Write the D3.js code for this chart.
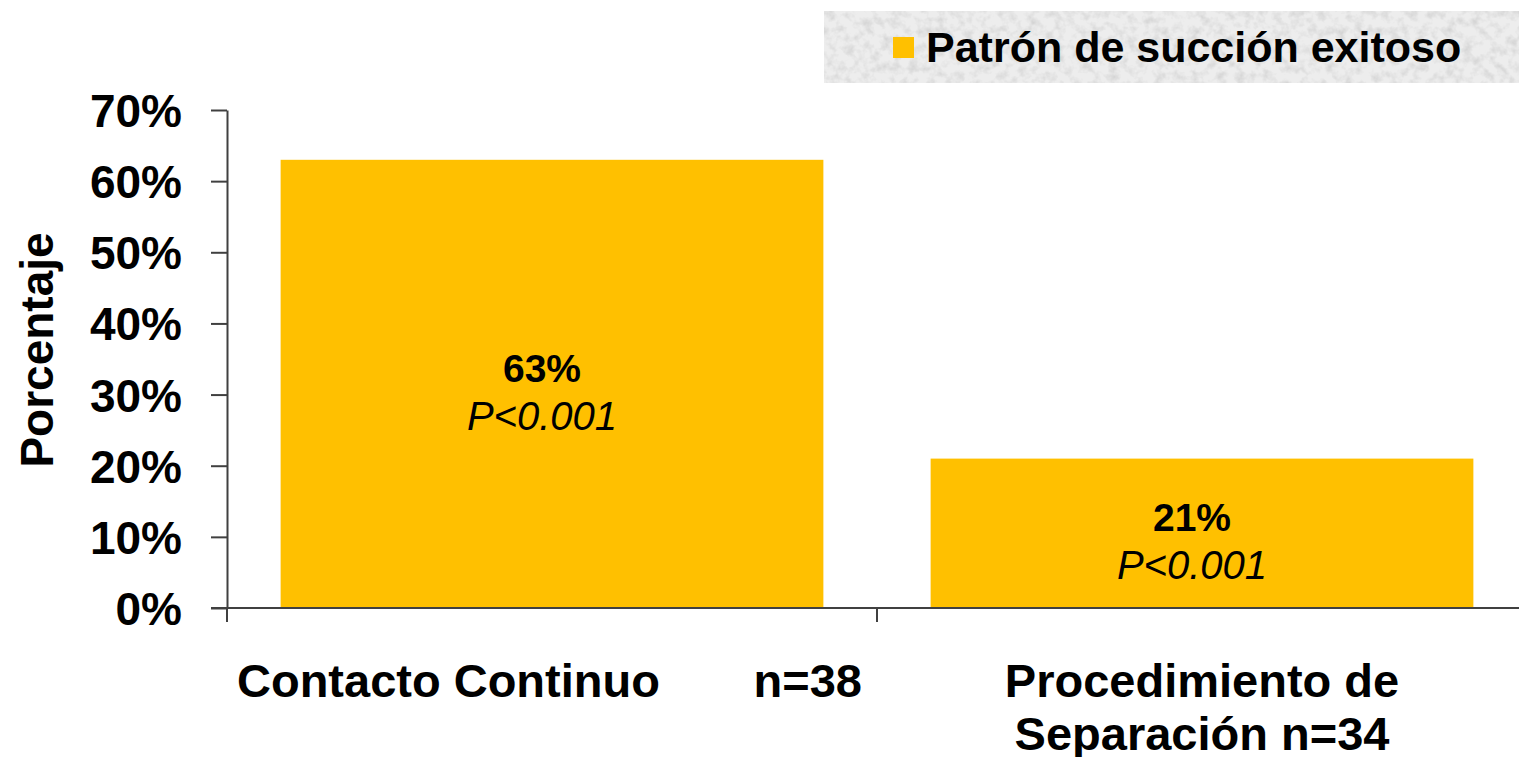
<!DOCTYPE html>
<html>
<head>
<meta charset="utf-8">
<script src="https://cdn.jsdelivr.net/npm/d3@7"></script>
<style>
  html, body { margin: 0; padding: 0; background: #ffffff; }
  svg { display: block; font-family: Arial, "Liberation Sans", sans-serif; }
</style>
</head>
<body>
<svg id="chart" width="1519" height="757"></svg>
<script>
// ---- data ----
const categories = ["Contacto Continuo", "Procedimiento de Separación"];
const sampleSizes = ["n=38", "n=34"];
const values = [63, 21];
const valueLabels = ["63%", "21%"];
const pLabels = ["P<0.001", "P<0.001"];
const yTicks = [0, 10, 20, 30, 40, 50, 60, 70];
const seriesName = "Patrón de succión exitoso";
const yTitle = "Porcentaje";

// ---- layout ----
const W = 1519, H = 757;
const plot = { left: 227, right: 1527, top: 110, bottom: 608 };
const barColor = "#FFC000";
const axisColor = "#404040";

const svg = d3.select("#chart");

const x = d3.scaleBand()
  .domain(categories)
  .range([plot.left, plot.right])
  .paddingInner(0.165)
  .paddingOuter(0.0825);

const y = d3.scaleLinear()
  .domain([0, 70])
  .range([plot.bottom, plot.top]);

// ---- legend (textured gray box) ----
const defs = svg.append("defs");
const f = defs.append("filter").attr("id", "granite")
  .attr("x", 0).attr("y", 0).attr("width", 1).attr("height", 1);
f.append("feTurbulence").attr("type", "fractalNoise")
  .attr("baseFrequency", "0.11").attr("numOctaves", 3).attr("seed", 7).attr("result", "noise");
f.append("feColorMatrix").attr("in", "noise").attr("type", "matrix")
  .attr("values", "0 0 0 0 0.55  0 0 0 0 0.55  0 0 0 0 0.55  1.3 0 0 0 -0.55")
  .attr("result", "grain");
f.append("feComposite").attr("in", "grain").attr("in2", "SourceGraphic").attr("operator", "in");

const legend = svg.append("g").attr("class", "legend");
legend.append("rect").attr("x", 824).attr("y", 11).attr("width", 700).attr("height", 72)
  .attr("fill", "#ededed");
legend.append("rect").attr("x", 824).attr("y", 11).attr("width", 700).attr("height", 72)
  .attr("fill", "#ffffff").attr("filter", "url(#granite)");
legend.append("rect").attr("x", 893).attr("y", 37).attr("width", 21).attr("height", 21)
  .attr("fill", barColor);
legend.append("text").attr("x", 926).attr("y", 62)
  .attr("font-size", 43).attr("font-weight", "bold").attr("fill", "#000")
  .text(seriesName);

// ---- bars ----
const idx = d3.range(categories.length);
svg.append("g").selectAll("rect").data(idx).join("rect")
  .attr("x", i => x(categories[i]))
  .attr("y", i => y(values[i]))
  .attr("width", x.bandwidth())
  .attr("height", i => y(0) - y(values[i]))
  .attr("fill", barColor);

// ---- bar labels ----
const lbl = svg.append("g").selectAll("g").data(idx).join("g")
  .attr("transform", i => {
    const cx = x(categories[i]) + x.bandwidth() / 2 - 10;
    const cy = (y(values[i]) + y(0)) / 2;
    return `translate(${cx},${cy})`;
  });
lbl.append("text").attr("text-anchor", "middle").attr("y", -2)
  .attr("font-size", 39).attr("font-weight", "bold").attr("fill", "#000")
  .text(i => valueLabels[i]);
lbl.append("text").attr("text-anchor", "middle").attr("y", 46)
  .attr("font-size", 40).attr("font-style", "italic").attr("fill", "#000")
  .text(i => pLabels[i]);

// ---- y axis ----
const yAxis = d3.axisLeft(y)
  .tickValues(yTicks)
  .tickSize(16)
  .tickSizeOuter(0)
  .tickPadding(29)
  .tickFormat(d => d + "%");
const gy = svg.append("g").attr("transform", `translate(${plot.left},0)`).call(yAxis);
gy.select(".domain").attr("stroke", axisColor).attr("stroke-width", 2);
gy.selectAll(".tick line").attr("stroke", axisColor).attr("stroke-width", 2);
gy.selectAll(".tick text")
  .attr("font-size", 46).attr("font-weight", "bold").attr("fill", "#000")
  .attr("font-family", "Arial, 'Liberation Sans', sans-serif")
  .attr("dy", "0.36em");

// ---- x axis (band boundaries) ----
const gx = svg.append("g");
gx.append("line")
  .attr("x1", plot.left - 16).attr("x2", W)
  .attr("y1", y(0)).attr("y2", y(0))
  .attr("stroke", axisColor).attr("stroke-width", 2);
const boundaries = d3.range(categories.length + 1).map(i => x.range()[0] + i * x.step());
gx.selectAll("line.tk").data(boundaries).join("line").attr("class", "tk")
  .attr("x1", d => d).attr("x2", d => d)
  .attr("y1", y(0)).attr("y2", y(0) + 14)
  .attr("stroke", axisColor).attr("stroke-width", 2);

// category labels
const catFont = 47;
// first category: name left, n right (justified line)
gx.append("text").attr("x", boundaries[0] + 10).attr("y", 697)
  .attr("font-size", catFont).attr("font-weight", "bold").attr("fill", "#000")
  .attr("text-anchor", "start").text(categories[0]);
gx.append("text").attr("x", boundaries[1] - 15).attr("y", 697)
  .attr("font-size", catFont).attr("font-weight", "bold").attr("fill", "#000")
  .attr("text-anchor", "end").text(sampleSizes[0]);
// second category: two centered lines
const words = categories[1].split(" ");
const line1 = words.slice(0, 2).join(" ");
const line2 = words.slice(2).join(" ") + " " + sampleSizes[1];
const cx1 = x(categories[1]) + x.bandwidth() / 2;
const t2 = gx.append("text").attr("x", cx1).attr("y", 697)
  .attr("font-size", catFont).attr("font-weight", "bold").attr("fill", "#000")
  .attr("text-anchor", "middle");
t2.append("tspan").attr("x", cx1).attr("y", 697).text(line1);
t2.append("tspan").attr("x", cx1).attr("y", 750).text(line2);

// ---- y title ----
svg.append("text")
  .attr("transform", `translate(53,350) rotate(-90)`)
  .attr("text-anchor", "middle")
  .attr("font-size", 46).attr("font-weight", "bold").attr("fill", "#000")
  .text(yTitle);
</script>
</body>
</html>
